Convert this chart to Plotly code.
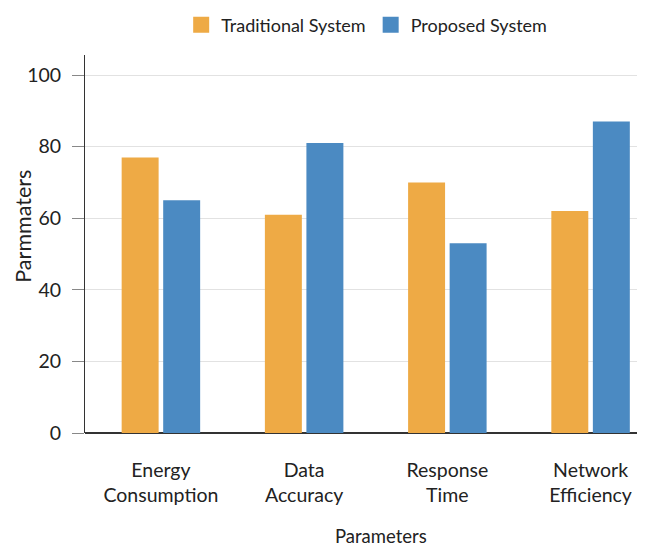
import plotly.graph_objects as go

categories = ["Energy<br>Consumption", "Data<br>Accuracy", "Response<br>Time", "Network<br>Efficiency"]
traditional = [77, 61, 70, 62]
proposed = [65, 81, 53, 87]
series_names = ["Traditional System", "Proposed System"]
colors = ["#EEAA45", "#4B8AC2"]
x_title = "Parameters"
y_title = "Parmmaters"

FONT = "Lato, sans-serif"
TXT = "#222"
fig = go.Figure()
for name, vals, col in zip(series_names, [traditional, proposed], colors):
    fig.add_trace(go.Bar(name=name, x=categories, y=vals, showlegend=False,
                         marker=dict(color=col, line=dict(width=0))))
# legend-only entries with large square symbols
for name, col in zip(series_names, colors):
    fig.add_trace(go.Scatter(name=name, x=[None], y=[None], mode="markers",
                             marker=dict(symbol="square", size=22, color=col),
                             showlegend=True, hoverinfo="skip"))

# page body has an 8px default margin, so the figure is sized/offset to compensate
fig.update_layout(
    width=637, height=538,
    margin=dict(l=77, r=0, t=47, b=113, autoexpand=False),
    paper_bgcolor="white", plot_bgcolor="white",
    font=dict(family=FONT, size=20, color=TXT),
    barmode="group", bargap=0.42, bargroupgap=0.11,
    showlegend=True,
    legend=dict(orientation="h", x=0.503, xanchor="center", y=1.079, yanchor="middle",
                font=dict(size=18, color=TXT), itemsizing="trace",
                traceorder="normal", itemwidth=30),
    xaxis=dict(
        range=[-0.53, 3.38], showgrid=False, showline=False, ticks="",
        tickfont=dict(size=19.5, color=TXT), ticklabelstandoff=23,
        automargin=False,
    ),
    yaxis=dict(
        range=[0, 105.6], tickvals=[0, 20, 40, 60, 80, 100],
        showgrid=True, gridcolor="#e2e2e2", gridwidth=1,
        showline=True, linecolor="#333", linewidth=1,
        ticks="outside", ticklen=12, tickcolor="#888",
        zeroline=True, zerolinecolor="#333", zerolinewidth=1.5,
        tickfont=dict(size=19.5, color=TXT), ticklabelstandoff=7,
        automargin=False,
    ),
    annotations=[
        dict(text=x_title, xref="paper", yref="paper", x=0.529, y=-0.272,
             xanchor="center", yanchor="middle", showarrow=False,
             font=dict(size=18.5, color=TXT)),
        dict(text=y_title, xref="paper", yref="paper", x=-0.111, y=0.548,
             xanchor="center", yanchor="middle", showarrow=False, textangle=-90,
             font=dict(size=21.5, color=TXT)),
    ],
)

fig.write_html("out.html")
